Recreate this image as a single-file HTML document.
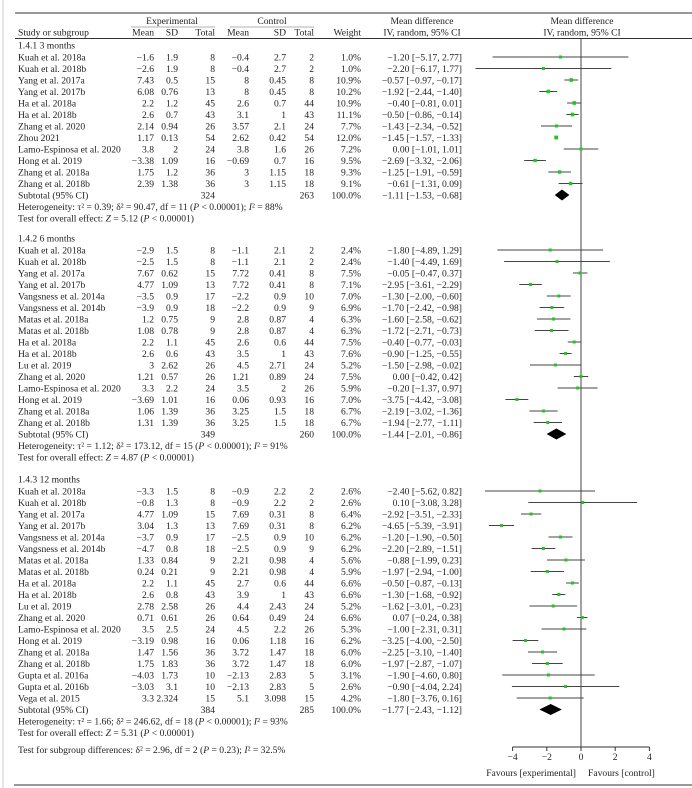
<!DOCTYPE html>
<html><head><meta charset="utf-8"><style>
html,body{margin:0;padding:0;background:#fff;}
svg{display:block;}
text{font-family:"Liberation Serif",serif;font-size:9.6px;fill:#222;}
.r{text-anchor:end;}
.c{text-anchor:middle;}
.ci line{stroke:#444;stroke-width:1;}
.ci rect{fill:#1ec81e;}
</style></head><body>
<svg width="692" height="788" viewBox="0 0 692 788" xmlns="http://www.w3.org/2000/svg">
<rect width="692" height="788" fill="#fff"/>
<line x1="3" y1="0" x2="3" y2="788" stroke="#ccc" stroke-width="1"/>
<line x1="15" y1="13" x2="692" y2="13" stroke="#333" stroke-width="1"/>
<line x1="15" y1="38.5" x2="692" y2="38.5" stroke="#333" stroke-width="1"/>
<line x1="14" y1="785" x2="692" y2="785" stroke="#333" stroke-width="1"/>
<!-- header -->
<text class="c" x="172" y="24">Experimental</text>
<text class="c" x="272" y="24">Control</text>
<text class="c" x="422" y="24">Mean difference</text>
<text class="c" x="582" y="24">Mean difference</text>
<line x1="131" y1="27" x2="215" y2="27" stroke="#666" stroke-width="0.6"/>
<line x1="230" y1="27" x2="314" y2="27" stroke="#666" stroke-width="0.6"/>
<g transform="translate(0,35.5)">
<text x="18">Study or subgroup</text><text class="r" x="154">Mean</text><text class="r" x="178">SD</text><text class="r" x="215">Total</text><text class="r" x="249">Mean</text><text class="r" x="286">SD</text><text class="r" x="314">Total</text><text class="r" x="361">Weight</text><text class="c" x="422">IV, random, 95% CI</text><text class="c" x="582">IV, random, 95% CI</text>
</g>
<!-- zero line & axis -->
<line x1="581" y1="38.5" x2="581" y2="747" stroke="#444" stroke-width="1"/>
<line x1="512.6" y1="747" x2="649.4" y2="747" stroke="#333" stroke-width="1"/>
<g stroke="#333"><line x1="512.6" y1="747" x2="512.6" y2="751"/><line x1="546.8" y1="747" x2="546.8" y2="751"/><line x1="581" y1="747" x2="581" y2="751"/><line x1="615.2" y1="747" x2="615.2" y2="751"/><line x1="649.4" y1="747" x2="649.4" y2="751"/></g>
<text class="c" x="512.6" y="760">−4</text><text class="c" x="546.8" y="760">−2</text><text class="c" x="581" y="760">0</text><text class="c" x="615.2" y="760">2</text><text class="c" x="649.4" y="760">4</text>
<text class="r" x="576" y="776">Favours [experimental]</text>
<text x="588" y="776">Favours [control]</text>

<!-- Section 1 -->
<text x="18" y="48.5">1.4.1 3 months</text>
<g transform="translate(0,60.5)"><text x="18">Kuah et al. 2018a</text><text class="r" x="154">−1.6</text><text class="r" x="178">1.9</text><text class="r" x="215">8</text><text class="r" x="249">−0.4</text><text class="r" x="286">2.7</text><text class="r" x="314">2</text><text class="r" x="361">1.0%</text><text class="r" x="462">−1.20 [−5.17, 2.77]</text></g>
<g transform="translate(0,72)"><text x="18">Kuah et al. 2018b</text><text class="r" x="154">−2.6</text><text class="r" x="178">1.9</text><text class="r" x="215">8</text><text class="r" x="249">−0.4</text><text class="r" x="286">2.7</text><text class="r" x="314">2</text><text class="r" x="361">1.0%</text><text class="r" x="462">−2.20 [−6.17, 1.77]</text></g>
<g transform="translate(0,83.5)"><text x="18">Yang et al. 2017a</text><text class="r" x="154">7.43</text><text class="r" x="178">0.5</text><text class="r" x="215">15</text><text class="r" x="249">8</text><text class="r" x="286">0.45</text><text class="r" x="314">8</text><text class="r" x="361">10.9%</text><text class="r" x="462">−0.57 [−0.97, −0.17]</text></g>
<g transform="translate(0,95)"><text x="18">Yang et al. 2017b</text><text class="r" x="154">6.08</text><text class="r" x="178">0.76</text><text class="r" x="215">13</text><text class="r" x="249">8</text><text class="r" x="286">0.45</text><text class="r" x="314">8</text><text class="r" x="361">10.2%</text><text class="r" x="462">−1.92 [−2.44, −1.40]</text></g>
<g transform="translate(0,106.5)"><text x="18">Ha et al. 2018a</text><text class="r" x="154">2.2</text><text class="r" x="178">1.2</text><text class="r" x="215">45</text><text class="r" x="249">2.6</text><text class="r" x="286">0.7</text><text class="r" x="314">44</text><text class="r" x="361">10.9%</text><text class="r" x="462">−0.40 [−0.81, 0.01]</text></g>
<g transform="translate(0,118)"><text x="18">Ha et al. 2018b</text><text class="r" x="154">2.6</text><text class="r" x="178">0.7</text><text class="r" x="215">43</text><text class="r" x="249">3.1</text><text class="r" x="286">1</text><text class="r" x="314">43</text><text class="r" x="361">11.1%</text><text class="r" x="462">−0.50 [−0.86, −0.14]</text></g>
<g transform="translate(0,129.5)"><text x="18">Zhang et al. 2020</text><text class="r" x="154">2.14</text><text class="r" x="178">0.94</text><text class="r" x="215">26</text><text class="r" x="249">3.57</text><text class="r" x="286">2.1</text><text class="r" x="314">24</text><text class="r" x="361">7.7%</text><text class="r" x="462">−1.43 [−2.34, −0.52]</text></g>
<g transform="translate(0,141)"><text x="18">Zhou 2021</text><text class="r" x="154">1.17</text><text class="r" x="178">0.13</text><text class="r" x="215">54</text><text class="r" x="249">2.62</text><text class="r" x="286">0.42</text><text class="r" x="314">54</text><text class="r" x="361">12.0%</text><text class="r" x="462">−1.45 [−1.57, −1.33]</text></g>
<g transform="translate(0,152.5)"><text x="18">Lamo-Espinosa et al. 2020</text><text class="r" x="154">3.8</text><text class="r" x="178">2</text><text class="r" x="215">24</text><text class="r" x="249">3.8</text><text class="r" x="286">1.6</text><text class="r" x="314">26</text><text class="r" x="361">7.2%</text><text class="r" x="462">0.00 [−1.01, 1.01]</text></g>
<g transform="translate(0,164)"><text x="18">Hong et al. 2019</text><text class="r" x="154">−3.38</text><text class="r" x="178">1.09</text><text class="r" x="215">16</text><text class="r" x="249">−0.69</text><text class="r" x="286">0.7</text><text class="r" x="314">16</text><text class="r" x="361">9.5%</text><text class="r" x="462">−2.69 [−3.32, −2.06]</text></g>
<g transform="translate(0,175.5)"><text x="18">Zhang et al. 2018a</text><text class="r" x="154">1.75</text><text class="r" x="178">1.2</text><text class="r" x="215">36</text><text class="r" x="249">3</text><text class="r" x="286">1.15</text><text class="r" x="314">18</text><text class="r" x="361">9.3%</text><text class="r" x="462">−1.25 [−1.91, −0.59]</text></g>
<g transform="translate(0,187)"><text x="18">Zhang et al. 2018b</text><text class="r" x="154">2.39</text><text class="r" x="178">1.38</text><text class="r" x="215">36</text><text class="r" x="249">3</text><text class="r" x="286">1.15</text><text class="r" x="314">18</text><text class="r" x="361">9.1%</text><text class="r" x="462">−0.61 [−1.31, 0.09]</text></g>
<g transform="translate(0,198.5)"><text x="18">Subtotal (95% CI)</text><text class="r" x="215">324</text><text class="r" x="314">263</text><text class="r" x="361">100.0%</text><text class="r" x="462">−1.11 [−1.53, −0.68]</text></g>
<text x="18" y="210">Heterogeneity: τ² = 0.39; δ² = 90.47, df = 11 (<tspan font-style="italic">P</tspan> &lt; 0.00001); <tspan font-style="italic">I</tspan>² = 88%</text>
<text x="18" y="221.5">Test for overall effect: <tspan font-style="italic">Z</tspan> = 5.12 (<tspan font-style="italic">P</tspan> &lt; 0.00001)</text>
<g class="ci">
<line x1="492.6" y1="57" x2="628.4" y2="57"/><rect x="559" y="55.5" width="3" height="3"/>
<line x1="475.5" y1="68.5" x2="611.3" y2="68.5"/><rect x="542" y="67" width="3" height="3"/>
<line x1="564.4" y1="80" x2="578.1" y2="80"/><rect x="569.5" y="78.2" width="3.6" height="3.6"/>
<line x1="539.3" y1="91.5" x2="557.1" y2="91.5"/><rect x="546.4" y="89.7" width="3.6" height="3.6"/>
<line x1="567.1" y1="103" x2="581.2" y2="103"/><rect x="572.4" y="101.2" width="3.6" height="3.6"/>
<line x1="566.3" y1="114.5" x2="578.6" y2="114.5"/><rect x="570.7" y="112.7" width="3.6" height="3.6"/>
<line x1="541" y1="126" x2="572.1" y2="126"/><rect x="555" y="124.5" width="3" height="3"/>
<rect x="554.3" y="135.6" width="3.8" height="3.8"/>
<line x1="563.7" y1="149" x2="598.3" y2="149"/><rect x="579.5" y="147.5" width="3" height="3"/>
<line x1="524.2" y1="160.5" x2="545.8" y2="160.5"/><rect x="533.4" y="158.8" width="3.4" height="3.4"/>
<line x1="548.3" y1="172" x2="570.9" y2="172"/><rect x="557.9" y="170.3" width="3.4" height="3.4"/>
<line x1="558.6" y1="183.5" x2="582.5" y2="183.5"/><rect x="568.9" y="181.8" width="3.4" height="3.4"/>
</g>
<polygon points="554.8,195 562,189.5 569.4,195 562,200.5" fill="#000"/>

<!-- Section 2 -->
<text x="18" y="241.5">1.4.2 6 months</text>
<g transform="translate(0,253.5)"><text x="18">Kuah et al. 2018a</text><text class="r" x="154">−2.9</text><text class="r" x="178">1.5</text><text class="r" x="215">8</text><text class="r" x="249">−1.1</text><text class="r" x="286">2.1</text><text class="r" x="314">2</text><text class="r" x="361">2.4%</text><text class="r" x="462">−1.80 [−4.89, 1.29]</text></g>
<g transform="translate(0,265)"><text x="18">Kuah et al. 2018b</text><text class="r" x="154">−2.5</text><text class="r" x="178">1.5</text><text class="r" x="215">8</text><text class="r" x="249">−1.1</text><text class="r" x="286">2.1</text><text class="r" x="314">2</text><text class="r" x="361">2.4%</text><text class="r" x="462">−1.40 [−4.49, 1.69]</text></g>
<g transform="translate(0,276.5)"><text x="18">Yang et al. 2017a</text><text class="r" x="154">7.67</text><text class="r" x="178">0.62</text><text class="r" x="215">15</text><text class="r" x="249">7.72</text><text class="r" x="286">0.41</text><text class="r" x="314">8</text><text class="r" x="361">7.5%</text><text class="r" x="462">−0.05 [−0.47, 0.37]</text></g>
<g transform="translate(0,288)"><text x="18">Yang et al. 2017b</text><text class="r" x="154">4.77</text><text class="r" x="178">1.09</text><text class="r" x="215">13</text><text class="r" x="249">7.72</text><text class="r" x="286">0.41</text><text class="r" x="314">8</text><text class="r" x="361">7.1%</text><text class="r" x="462">−2.95 [−3.61, −2.29]</text></g>
<g transform="translate(0,299.5)"><text x="18">Vangsness et al. 2014a</text><text class="r" x="154">−3.5</text><text class="r" x="178">0.9</text><text class="r" x="215">17</text><text class="r" x="249">−2.2</text><text class="r" x="286">0.9</text><text class="r" x="314">10</text><text class="r" x="361">7.0%</text><text class="r" x="462">−1.30 [−2.00, −0.60]</text></g>
<g transform="translate(0,311)"><text x="18">Vangsness et al. 2014b</text><text class="r" x="154">−3.9</text><text class="r" x="178">0.9</text><text class="r" x="215">18</text><text class="r" x="249">−2.2</text><text class="r" x="286">0.9</text><text class="r" x="314">9</text><text class="r" x="361">6.9%</text><text class="r" x="462">−1.70 [−2.42, −0.98]</text></g>
<g transform="translate(0,322.5)"><text x="18">Matas et al. 2018a</text><text class="r" x="154">1.2</text><text class="r" x="178">0.75</text><text class="r" x="215">9</text><text class="r" x="249">2.8</text><text class="r" x="286">0.87</text><text class="r" x="314">4</text><text class="r" x="361">6.3%</text><text class="r" x="462">−1.60 [−2.58, −0.62]</text></g>
<g transform="translate(0,334)"><text x="18">Matas et al. 2018b</text><text class="r" x="154">1.08</text><text class="r" x="178">0.78</text><text class="r" x="215">9</text><text class="r" x="249">2.8</text><text class="r" x="286">0.87</text><text class="r" x="314">4</text><text class="r" x="361">6.3%</text><text class="r" x="462">−1.72 [−2.71, −0.73]</text></g>
<g transform="translate(0,345.5)"><text x="18">Ha et al. 2018a</text><text class="r" x="154">2.2</text><text class="r" x="178">1.1</text><text class="r" x="215">45</text><text class="r" x="249">2.6</text><text class="r" x="286">0.6</text><text class="r" x="314">44</text><text class="r" x="361">7.5%</text><text class="r" x="462">−0.40 [−0.77, −0.03]</text></g>
<g transform="translate(0,357)"><text x="18">Ha et al. 2018b</text><text class="r" x="154">2.6</text><text class="r" x="178">0.6</text><text class="r" x="215">43</text><text class="r" x="249">3.5</text><text class="r" x="286">1</text><text class="r" x="314">43</text><text class="r" x="361">7.6%</text><text class="r" x="462">−0.90 [−1.25, −0.55]</text></g>
<g transform="translate(0,368.5)"><text x="18">Lu et al. 2019</text><text class="r" x="154">3</text><text class="r" x="178">2.62</text><text class="r" x="215">26</text><text class="r" x="249">4.5</text><text class="r" x="286">2.71</text><text class="r" x="314">24</text><text class="r" x="361">5.2%</text><text class="r" x="462">−1.50 [−2.98, −0.02]</text></g>
<g transform="translate(0,380)"><text x="18">Zhang et al. 2020</text><text class="r" x="154">1.21</text><text class="r" x="178">0.57</text><text class="r" x="215">26</text><text class="r" x="249">1.21</text><text class="r" x="286">0.89</text><text class="r" x="314">24</text><text class="r" x="361">7.5%</text><text class="r" x="462">0.00 [−0.42, 0.42]</text></g>
<g transform="translate(0,391.5)"><text x="18">Lamo-Espinosa et al. 2020</text><text class="r" x="154">3.3</text><text class="r" x="178">2.2</text><text class="r" x="215">24</text><text class="r" x="249">3.5</text><text class="r" x="286">2</text><text class="r" x="314">26</text><text class="r" x="361">5.9%</text><text class="r" x="462">−0.20 [−1.37, 0.97]</text></g>
<g transform="translate(0,403)"><text x="18">Hong et al. 2019</text><text class="r" x="154">−3.69</text><text class="r" x="178">1.01</text><text class="r" x="215">16</text><text class="r" x="249">0.06</text><text class="r" x="286">0.93</text><text class="r" x="314">16</text><text class="r" x="361">7.0%</text><text class="r" x="462">−3.75 [−4.42, −3.08]</text></g>
<g transform="translate(0,414.5)"><text x="18">Zhang et al. 2018a</text><text class="r" x="154">1.06</text><text class="r" x="178">1.39</text><text class="r" x="215">36</text><text class="r" x="249">3.25</text><text class="r" x="286">1.5</text><text class="r" x="314">18</text><text class="r" x="361">6.7%</text><text class="r" x="462">−2.19 [−3.02, −1.36]</text></g>
<g transform="translate(0,426)"><text x="18">Zhang et al. 2018b</text><text class="r" x="154">1.31</text><text class="r" x="178">1.39</text><text class="r" x="215">36</text><text class="r" x="249">3.25</text><text class="r" x="286">1.5</text><text class="r" x="314">18</text><text class="r" x="361">6.7%</text><text class="r" x="462">−1.94 [−2.77, −1.11]</text></g>
<g transform="translate(0,437.5)"><text x="18">Subtotal (95% CI)</text><text class="r" x="215">349</text><text class="r" x="314">260</text><text class="r" x="361">100.0%</text><text class="r" x="462">−1.44 [−2.01, −0.86]</text></g>
<text x="18" y="449">Heterogeneity: τ² = 1.12; δ² = 173.12, df = 15 (<tspan font-style="italic">P</tspan> &lt; 0.00001); <tspan font-style="italic">I</tspan>² = 91%</text>
<text x="18" y="460.5">Test for overall effect: <tspan font-style="italic">Z</tspan> = 4.87 (<tspan font-style="italic">P</tspan> &lt; 0.00001)</text>
<g class="ci">
<line x1="497.4" y1="250" x2="603.1" y2="250"/><rect x="548.7" y="248.5" width="3" height="3"/>
<line x1="504.2" y1="261.5" x2="609.9" y2="261.5"/><rect x="555.6" y="260" width="3" height="3"/>
<line x1="573" y1="273" x2="587.3" y2="273"/><rect x="578.6" y="271.5" width="3" height="3"/>
<line x1="519.3" y1="284.5" x2="541.8" y2="284.5"/><rect x="529.1" y="283" width="3" height="3"/>
<line x1="546.8" y1="296" x2="570.7" y2="296"/><rect x="557.3" y="294.5" width="3" height="3"/>
<line x1="539.6" y1="307.5" x2="564.2" y2="307.5"/><rect x="550.4" y="306" width="3" height="3"/>
<line x1="536.9" y1="319" x2="570.4" y2="319"/><rect x="552.1" y="317.5" width="3" height="3"/>
<line x1="534.7" y1="330.5" x2="568.5" y2="330.5"/><rect x="550.1" y="329" width="3" height="3"/>
<line x1="567.8" y1="342" x2="580.5" y2="342"/><rect x="572.7" y="340.5" width="3" height="3"/>
<line x1="559.6" y1="353.5" x2="571.6" y2="353.5"/><rect x="564.1" y="352" width="3" height="3"/>
<line x1="530" y1="365" x2="580.7" y2="365"/><rect x="553.9" y="363.5" width="3" height="3"/>
<line x1="573.8" y1="376.5" x2="588.2" y2="376.5"/><rect x="579.5" y="375" width="3" height="3"/>
<line x1="557.6" y1="388" x2="597.6" y2="388"/><rect x="576.1" y="386.5" width="3" height="3"/>
<line x1="505.4" y1="399.5" x2="528.3" y2="399.5"/><rect x="515.4" y="398" width="3" height="3"/>
<line x1="529.4" y1="411" x2="557.7" y2="411"/><rect x="542.1" y="409.5" width="3" height="3"/>
<line x1="533.6" y1="422.5" x2="562" y2="422.5"/><rect x="546.3" y="421" width="3" height="3"/>
</g>
<polygon points="546.6,434 556.4,428.5 566.3,434 556.4,439.5" fill="#000"/>

<!-- Section 3 -->
<text x="18" y="482.5">1.4.3 12 months</text>
<g transform="translate(0,494.5)"><text x="18">Kuah et al. 2018a</text><text class="r" x="154">−3.3</text><text class="r" x="178">1.5</text><text class="r" x="215">8</text><text class="r" x="249">−0.9</text><text class="r" x="286">2.2</text><text class="r" x="314">2</text><text class="r" x="361">2.6%</text><text class="r" x="462">−2.40 [−5.62, 0.82]</text></g>
<g transform="translate(0,506)"><text x="18">Kuah et al. 2018b</text><text class="r" x="154">−0.8</text><text class="r" x="178">1.3</text><text class="r" x="215">8</text><text class="r" x="249">−0.9</text><text class="r" x="286">2.2</text><text class="r" x="314">2</text><text class="r" x="361">2.6%</text><text class="r" x="462">0.10 [−3.08, 3.28]</text></g>
<g transform="translate(0,517.5)"><text x="18">Yang et al. 2017a</text><text class="r" x="154">4.77</text><text class="r" x="178">1.09</text><text class="r" x="215">15</text><text class="r" x="249">7.69</text><text class="r" x="286">0.31</text><text class="r" x="314">8</text><text class="r" x="361">6.4%</text><text class="r" x="462">−2.92 [−3.51, −2.33]</text></g>
<g transform="translate(0,529)"><text x="18">Yang et al. 2017b</text><text class="r" x="154">3.04</text><text class="r" x="178">1.3</text><text class="r" x="215">13</text><text class="r" x="249">7.69</text><text class="r" x="286">0.31</text><text class="r" x="314">8</text><text class="r" x="361">6.2%</text><text class="r" x="462">−4.65 [−5.39, −3.91]</text></g>
<g transform="translate(0,540.5)"><text x="18">Vangsness et al. 2014a</text><text class="r" x="154">−3.7</text><text class="r" x="178">0.9</text><text class="r" x="215">17</text><text class="r" x="249">−2.5</text><text class="r" x="286">0.9</text><text class="r" x="314">10</text><text class="r" x="361">6.2%</text><text class="r" x="462">−1.20 [−1.90, −0.50]</text></g>
<g transform="translate(0,552)"><text x="18">Vangsness et al. 2014b</text><text class="r" x="154">−4.7</text><text class="r" x="178">0.8</text><text class="r" x="215">18</text><text class="r" x="249">−2.5</text><text class="r" x="286">0.9</text><text class="r" x="314">9</text><text class="r" x="361">6.2%</text><text class="r" x="462">−2.20 [−2.89, −1.51]</text></g>
<g transform="translate(0,563.5)"><text x="18">Matas et al. 2018a</text><text class="r" x="154">1.33</text><text class="r" x="178">0.84</text><text class="r" x="215">9</text><text class="r" x="249">2.21</text><text class="r" x="286">0.98</text><text class="r" x="314">4</text><text class="r" x="361">5.6%</text><text class="r" x="462">−0.88 [−1.99, 0.23]</text></g>
<g transform="translate(0,575)"><text x="18">Matas et al. 2018b</text><text class="r" x="154">0.24</text><text class="r" x="178">0.21</text><text class="r" x="215">9</text><text class="r" x="249">2.21</text><text class="r" x="286">0.98</text><text class="r" x="314">4</text><text class="r" x="361">5.9%</text><text class="r" x="462">−1.97 [−2.94, −1.00]</text></g>
<g transform="translate(0,586.5)"><text x="18">Ha et al. 2018a</text><text class="r" x="154">2.2</text><text class="r" x="178">1.1</text><text class="r" x="215">45</text><text class="r" x="249">2.7</text><text class="r" x="286">0.6</text><text class="r" x="314">44</text><text class="r" x="361">6.6%</text><text class="r" x="462">−0.50 [−0.87, −0.13]</text></g>
<g transform="translate(0,598)"><text x="18">Ha et al. 2018b</text><text class="r" x="154">2.6</text><text class="r" x="178">0.8</text><text class="r" x="215">43</text><text class="r" x="249">3.9</text><text class="r" x="286">1</text><text class="r" x="314">43</text><text class="r" x="361">6.6%</text><text class="r" x="462">−1.30 [−1.68, −0.92]</text></g>
<g transform="translate(0,609.5)"><text x="18">Lu et al. 2019</text><text class="r" x="154">2.78</text><text class="r" x="178">2.58</text><text class="r" x="215">26</text><text class="r" x="249">4.4</text><text class="r" x="286">2.43</text><text class="r" x="314">24</text><text class="r" x="361">5.2%</text><text class="r" x="462">−1.62 [−3.01, −0.23]</text></g>
<g transform="translate(0,621)"><text x="18">Zhang et al. 2020</text><text class="r" x="154">0.71</text><text class="r" x="178">0.61</text><text class="r" x="215">26</text><text class="r" x="249">0.64</text><text class="r" x="286">0.49</text><text class="r" x="314">24</text><text class="r" x="361">6.6%</text><text class="r" x="462">0.07 [−0.24, 0.38]</text></g>
<g transform="translate(0,632.5)"><text x="18">Lamo-Espinosa et al. 2020</text><text class="r" x="154">3.5</text><text class="r" x="178">2.5</text><text class="r" x="215">24</text><text class="r" x="249">4.5</text><text class="r" x="286">2.2</text><text class="r" x="314">26</text><text class="r" x="361">5.3%</text><text class="r" x="462">−1.00 [−2.31, 0.31]</text></g>
<g transform="translate(0,644)"><text x="18">Hong et al. 2019</text><text class="r" x="154">−3.19</text><text class="r" x="178">0.98</text><text class="r" x="215">16</text><text class="r" x="249">0.06</text><text class="r" x="286">1.18</text><text class="r" x="314">16</text><text class="r" x="361">6.2%</text><text class="r" x="462">−3.25 [−4.00, −2.50]</text></g>
<g transform="translate(0,655.5)"><text x="18">Zhang et al. 2018a</text><text class="r" x="154">1.47</text><text class="r" x="178">1.56</text><text class="r" x="215">36</text><text class="r" x="249">3.72</text><text class="r" x="286">1.47</text><text class="r" x="314">18</text><text class="r" x="361">6.0%</text><text class="r" x="462">−2.25 [−3.10, −1.40]</text></g>
<g transform="translate(0,667)"><text x="18">Zhang et al. 2018b</text><text class="r" x="154">1.75</text><text class="r" x="178">1.83</text><text class="r" x="215">36</text><text class="r" x="249">3.72</text><text class="r" x="286">1.47</text><text class="r" x="314">18</text><text class="r" x="361">6.0%</text><text class="r" x="462">−1.97 [−2.87, −1.07]</text></g>
<g transform="translate(0,678.5)"><text x="18">Gupta et al. 2016a</text><text class="r" x="154">−4.03</text><text class="r" x="178">1.73</text><text class="r" x="215">10</text><text class="r" x="249">−2.13</text><text class="r" x="286">2.83</text><text class="r" x="314">5</text><text class="r" x="361">3.1%</text><text class="r" x="462">−1.90 [−4.60, 0.80]</text></g>
<g transform="translate(0,690)"><text x="18">Gupta et al. 2016b</text><text class="r" x="154">−3.03</text><text class="r" x="178">3.1</text><text class="r" x="215">10</text><text class="r" x="249">−2.13</text><text class="r" x="286">2.83</text><text class="r" x="314">5</text><text class="r" x="361">2.6%</text><text class="r" x="462">−0.90 [−4.04, 2.24]</text></g>
<g transform="translate(0,701.5)"><text x="18">Vega et al. 2015</text><text class="r" x="154">3.3</text><text class="r" x="178">2.324</text><text class="r" x="215">15</text><text class="r" x="249">5.1</text><text class="r" x="286">3.098</text><text class="r" x="314">15</text><text class="r" x="361">4.2%</text><text class="r" x="462">−1.80 [−3.76, 0.16]</text></g>
<g transform="translate(0,713)"><text x="18">Subtotal (95% CI)</text><text class="r" x="215">384</text><text class="r" x="314">285</text><text class="r" x="361">100.0%</text><text class="r" x="462">−1.77 [−2.43, −1.12]</text></g>
<text x="18" y="724.5">Heterogeneity: τ² = 1.66; δ² = 246.62, df = 18 (<tspan font-style="italic">P</tspan> &lt; 0.00001); <tspan font-style="italic">I</tspan>² = 93%</text>
<text x="18" y="736">Test for overall effect: <tspan font-style="italic">Z</tspan> = 5.31 (<tspan font-style="italic">P</tspan> &lt; 0.00001)</text>
<text x="18" y="753">Test for subgroup differences: δ² = 2.96, df = 2 (<tspan font-style="italic">P</tspan> = 0.23); <tspan font-style="italic">I</tspan>² = 32.5%</text>
<g class="ci">
<line x1="484.9" y1="491" x2="595" y2="491"/><rect x="538.5" y="489.5" width="3" height="3"/>
<line x1="528.3" y1="502.5" x2="637.1" y2="502.5"/><rect x="581.2" y="501" width="3" height="3"/>
<line x1="521" y1="514" x2="541.2" y2="514"/><rect x="529.6" y="512.5" width="3" height="3"/>
<line x1="488.8" y1="525.5" x2="514.1" y2="525.5"/><rect x="500" y="524" width="3" height="3"/>
<line x1="548.5" y1="537" x2="572.5" y2="537"/><rect x="559" y="535.5" width="3" height="3"/>
<line x1="531.6" y1="548.5" x2="555.2" y2="548.5"/><rect x="541.9" y="547" width="3" height="3"/>
<line x1="547" y1="560" x2="584.9" y2="560"/><rect x="564.5" y="558.5" width="3" height="3"/>
<line x1="530.7" y1="571.5" x2="563.9" y2="571.5"/><rect x="545.8" y="570" width="3" height="3"/>
<line x1="566.1" y1="583" x2="578.8" y2="583"/><rect x="571" y="581.5" width="3" height="3"/>
<line x1="552.3" y1="594.5" x2="565.3" y2="594.5"/><rect x="557.3" y="593" width="3" height="3"/>
<line x1="529.5" y1="606" x2="577.1" y2="606"/><rect x="551.8" y="604.5" width="3" height="3"/>
<line x1="576.9" y1="617.5" x2="587.5" y2="617.5"/><rect x="580.7" y="616" width="3" height="3"/>
<line x1="541.5" y1="629" x2="586.3" y2="629"/><rect x="562.4" y="627.5" width="3" height="3"/>
<line x1="512.6" y1="640.5" x2="538.3" y2="640.5"/><rect x="523.9" y="639" width="3" height="3"/>
<line x1="528" y1="652" x2="557.1" y2="652"/><rect x="541" y="650.5" width="3" height="3"/>
<line x1="531.9" y1="663.5" x2="562.7" y2="663.5"/><rect x="545.8" y="662" width="3" height="3"/>
<line x1="502.3" y1="675" x2="594.7" y2="675"/><rect x="547" y="673.5" width="3" height="3"/>
<line x1="511.9" y1="686.5" x2="619.3" y2="686.5"/><rect x="564.1" y="685" width="3" height="3"/>
<line x1="516.7" y1="698" x2="583.7" y2="698"/><rect x="548.7" y="696.5" width="3" height="3"/>
</g>
<polygon points="539.4,709.5 550.7,704 561.8,709.5 550.7,715" fill="#000"/>
</svg>
</body></html>
